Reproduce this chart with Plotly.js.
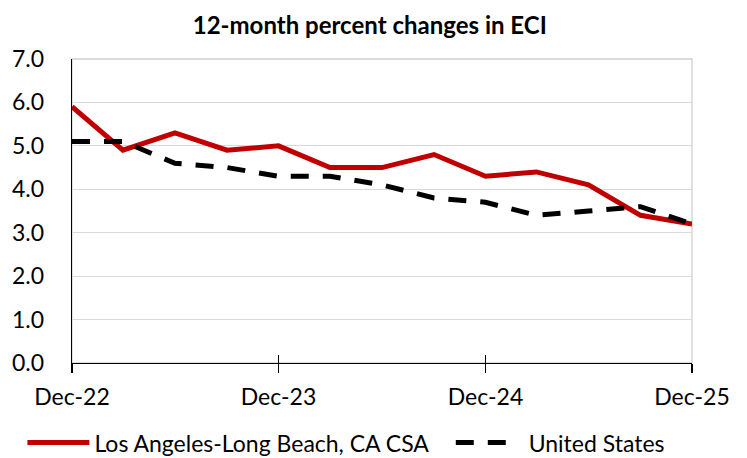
<!DOCTYPE html>
<html><head><meta charset="utf-8">
<script src="https://cdn.plot.ly/plotly-3.0.1.min.js"></script>
<style>html,body{margin:0;padding:0;background:#fff}#chart{width:747px;height:458px}</style>
</head><body><div id="chart"></div>
<script>
const dates = ["2022-12-01","2023-03-01","2023-06-01","2023-09-01","2023-12-01","2024-03-01","2024-06-01","2024-09-01","2024-12-01","2025-03-01","2025-06-01","2025-09-01","2025-12-01"];
const laValues = [5.9,4.9,5.3,4.9,5.0,4.5,4.5,4.8,4.3,4.4,4.1,3.4,3.2];
const usValues = [5.1,5.1,4.6,4.5,4.3,4.3,4.1,3.8,3.7,3.4,3.5,3.6,3.2];
const seriesNames = ["Los Angeles-Long Beach, CA CSA","United States"];
const titleText = "12-month percent changes in ECI";
const FONT = "Lato, 'Noto Sans', sans-serif";

const traces = [
  {x: dates, y: laValues, name: seriesNames[0] + "\u00a0\u00a0\u00a0", type: "scatter", mode: "lines",
   line: {color: "#c00000", width: 5}},
  {x: dates, y: usValues, name: "\u00a0" + seriesNames[1], type: "scatter", mode: "lines", xaxis: "x2",
   line: {color: "#000000", width: 5, dash: "18px,14px"}}
];
const xRange = [dates[0], dates[dates.length-1]];
const layout = {
  width: 747, height: 458,
  margin: {l: 72, r: 55, t: 59, b: 95, autoexpand: false},
  paper_bgcolor: "#fff", plot_bgcolor: "#fff",
  font: {family: FONT, color: "#000", size: 23},
  title: {text: "<b>" + titleText + "</b>", x: 0.495, xanchor: "center", y: 0.945, yanchor: "middle",
          font: {family: FONT, size: 24, color: "#000"}},
  xaxis: {type: "date", range: xRange, dtick: "M12", tick0: dates[0],
          tickformat: "%b-%y", showgrid: false, showline: true, linecolor: "#000", linewidth: 1.3,
          ticks: "outside", ticklen: 9, tickcolor: "#000", tickwidth: 1.2, zeroline: false,
          ticklabelstandoff: 4, tickfont: {size: 23}, fixedrange: true},
  xaxis2: {type: "date", range: xRange, dtick: "M12", tick0: dates[0],
           overlaying: "x", anchor: "y", side: "bottom", showticklabels: false, showgrid: false,
           showline: false, ticks: "inside", ticklen: 8, tickcolor: "#000", tickwidth: 1.2, zeroline: false,
           fixedrange: true},
  yaxis: {range: [0, 7], dtick: 1, tickformat: ".1f", showgrid: true, gridcolor: "#d9d9d9", gridwidth: 1.2,
          showline: true, linecolor: "#000", linewidth: 1.3, ticks: "", zeroline: false,
          tickfont: {size: 23}, ticklabelstandoff: 22, fixedrange: true},
  shapes: [{type: "rect", xref: "paper", yref: "paper", x0: 0, x1: 1, y0: 0, y1: 1,
            line: {color: "#d0d0d0", width: 1.3}, layer: "below"}],
  showlegend: true,
  legend: {orientation: "h", x: -0.08, xanchor: "left", y: -0.262, yanchor: "middle",
           font: {size: 23, family: FONT}, itemwidth: 62, tracegroupgap: 0, traceorder: "normal",
           bgcolor: "rgba(0,0,0,0)"}
};
Plotly.newPlot("chart", traces, layout, {displayModeBar: false, staticPlot: true});
</script></body></html>
